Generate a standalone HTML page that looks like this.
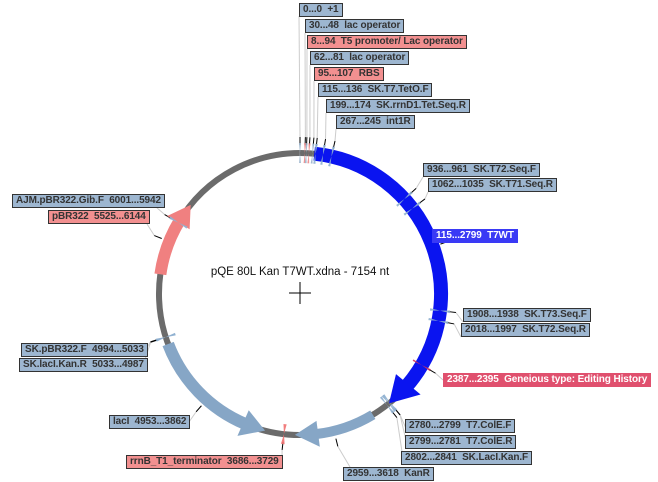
<!DOCTYPE html>
<html><head><meta charset="utf-8"><style>
body{margin:0;background:#fff;width:658px;height:482px;overflow:hidden;font-family:"Liberation Sans",sans-serif}
.l{position:absolute;height:12px;line-height:12px;font-size:10px;border:1px solid #333;background:#9db6d0;color:#333;padding:0 3px;white-space:pre;font-weight:bold;letter-spacing:-0.1px}
.r{background:#f29090}
svg{position:absolute;left:0;top:0}
</style></head><body>
<svg id="s" width="658" height="482"></svg>
<div class="l" style="left:299px;top:3px">0...0  +1</div>
<div class="l" style="left:305px;top:19px">30...48  lac operator</div>
<div class="l r" style="left:307px;top:35px">8...94  T5 promoter/ Lac operator</div>
<div class="l" style="left:310px;top:51px">62...81  lac operator</div>
<div class="l r" style="left:314px;top:67px">95...107  RBS</div>
<div class="l" style="left:318px;top:83px">115...136  SK.T7.TetO.F</div>
<div class="l" style="left:326px;top:99px">199...174  SK.rrnD1.Tet.Seq.R</div>
<div class="l" style="left:336px;top:115px">267...245  int1R</div>
<div class="l" style="left:423px;top:163px">936...961  SK.T72.Seq.F</div>
<div class="l" style="left:428px;top:178px">1062...1035  SK.T71.Seq.R</div>
<div class="l" style="left:432px;top:229px;background:#3a3af5;color:#fff;border-color:#3a3af5">115...2799  T7WT</div>
<div class="l" style="left:463px;top:308px">1908...1938  SK.T73.Seq.F</div>
<div class="l" style="left:461px;top:323px">2018...1997  SK.T72.Seq.R</div>
<div class="l" style="left:443px;top:373px;background:#e0506e;color:#fff;border-color:#e0506e">2387...2395  Geneious type: Editing History</div>
<div class="l" style="left:405px;top:419px">2780...2799  T7.ColE.F</div>
<div class="l" style="left:405px;top:435px">2799...2781  T7.ColE.R</div>
<div class="l" style="left:401px;top:451px">2802...2841  SK.LacI.Kan.F</div>
<div class="l" style="left:343px;top:467px">2959...3618  KanR</div>
<div class="l" style="left:12px;top:194px">AJM.pBR322.Gib.F  6001...5942</div>
<div class="l r" style="left:48px;top:210px">pBR322  5525...6144</div>
<div class="l" style="left:21px;top:343px">SK.pBR322.F  4994...5033</div>
<div class="l" style="left:19px;top:358px">SK.lacI.Kan.R  5033...4987</div>
<div class="l" style="left:109px;top:415px">lacI  4953...3862</div>
<div class="l r" style="left:126px;top:455px">rrnB_T1_terminator  3686...3729</div>
<div style="position:absolute;left:0;width:600px;top:266px;text-align:center;font-size:11.5px;color:#111">pQE 80L Kan T7WT.xdna - 7154 nt</div>
<script>
var cx=300,cy=294,R=141,N=7154,s=document.getElementById('s'),h='';
function P(p,r){var a=p/N*2*Math.PI;return[cx+r*Math.sin(a),cy-r*Math.cos(a)];}
function arc(a,b,r,w,c){var p1=P(a,r),p2=P(b,r),lg=(b-a)/N>0.5?1:0;h+='<path d="M'+p1+' A'+r+','+r+' 0 '+lg+' 1 '+p2+'" fill="none" stroke="'+c+'" stroke-width="'+w+'"/>';}
function head(base,tip,w,c){var a=P(base,R-w),b=P(base,R+w),t=P(tip,R);h+='<polygon points="'+a+' '+b+' '+t+'" fill="'+c+'"/>';}
function mark(p,c,w){var a=P(p-w,R-10),b=P(p+w,R+10),d=P(p+w,R-10),e=P(p-w,R+10);h+='<polygon points="'+a+' '+P(p,R)+' '+e+' '+b+' '+P(p,R)+' '+d+'" fill="'+c+'" opacity="0.9"/>';}
function lead(p,x,y){var a=P(p,R+8),b=P(p,R+16);h+='<line x1="'+b[0]+'" y1="'+b[1]+'" x2="'+x+'" y2="'+y+'" stroke="#ccc" stroke-width="1"/><line x1="'+a[0]+'" y1="'+a[1]+'" x2="'+b[0]+'" y2="'+b[1]+'" stroke="#000" stroke-width="1"/>';}
arc(0,N-1,R,6,'#6b6b6b');
lead(0,299,16);lead(39,305,33);lead(50,307,49);lead(72,310,65);lead(101,314,81);lead(125,318,97);lead(186,326,113);lead(256,336,129);
lead(948,423,177);lead(1048,428,192);lead(1400,432,243);lead(1923,463,322);lead(2007,461,337);lead(2391,443,380);
lead(2790,408,433);lead(2790,408,449);lead(2820,404,465);lead(3300,350,467);
lead(5970,156,207);lead(5800,147,224);lead(5013,141,357);lead(5010,141,372);lead(4400,189,422);lead(3707,282,462);
arc(115,2600,R,14,'#0a14f0');head(2580,2799,16,'#0a14f0');
arc(2959,3450,R,10,'#86a6c6');head(3430,3618,13,'#86a6c6');
arc(4030,4953,R,12,'#86a6c6');head(4050,3862,14,'#86a6c6');
arc(5525,5990,R,12,'#f08080');head(5970,6144,13,'#f08080');
[0,39,50,72,101].forEach(function(p,i){mark(p,i%2?'#e88':'#9ab4cc',8);});
[125,186,256,948,1048,1923,2007,2790,2800,2820,5013,5010,5970].forEach(function(p){mark(p,'#8fb0d0',10);});
mark(2391,'#d0305a',8);mark(3707,'#f07070',14);
h+='<line x1="289" y1="293" x2="311" y2="293" stroke="#000"/><line x1="300" y1="282" x2="300" y2="304" stroke="#000"/>';
s.innerHTML=h;
</script>
</body></html>
